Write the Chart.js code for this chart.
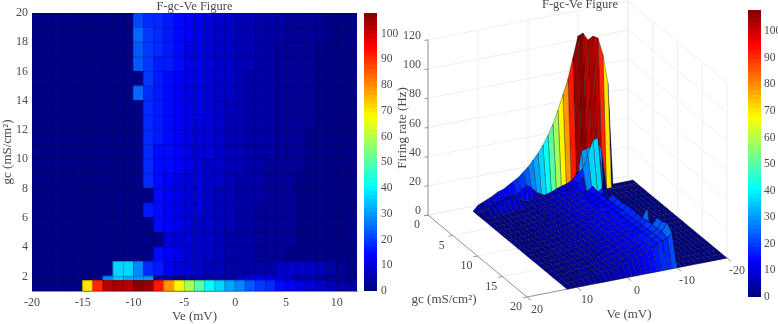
<!DOCTYPE html>
<html>
<head>
<meta charset="utf-8">
<script src="https://cdn.jsdelivr.net/npm/chart.js@4"></script>
<style>
html,body{margin:0;padding:0;background:#fff;width:778px;height:324px;overflow:hidden}
canvas{position:absolute}
</style>
</head>
<body>
<canvas id="surface" width="778" height="324" style="left:0;top:0"></canvas>
<canvas id="heat" width="362" height="324" style="left:0;top:0"></canvas>
<canvas id="barA" width="44" height="324" style="left:364px;top:0"></canvas>
<canvas id="barB" width="34" height="324" style="left:748px;top:0"></canvas>
<script>
const veNodes = [-20,-19,-18,-17,-16,-15,-14,-13,-12,-11,-10,-9,-8,-7,-6,-5,-4,-3,-2,-1,0,1,2,3,4,5,6,7,8,9,10,11,12];
const gcNodes = [1,1.7,2,3,4,5,6,7,8,9,10,11,12,13,14,15,16,17,18,19,20];
// Firing rate (Hz), one list per gc value
const rGc1   = [0,0,0,0,0,70,90,102,104,102,107.5,106,92,78,68,58,49,42,36,31,27,23,20,17,15,13,11,10,8,6.5,5,3.5,0];
const rGc1p7 = [0,0,0,0,0,0,0,28,34,31,30,29,4,3.5,3.5,4,3.5,3,3.5,5,7,11,13,11,9,7,5,4,3,2.5,2,1.5,0];
const rGc2   = [0,0,0,0,0,0,0,0,37,36,27,18,16,12,10,9,8,6.5,5.5,4.5,4,3.5,3.5,4,7,8,8,7.5,6,4.5,2.5,1.5,0];
const rGc3   = [0,0,0,0,0,0,0,0,0,0,0,0,15,12,10.5,9,8,7,6,5,4.2,3.6,3,2.5,2,1.6,1.3,1,.8,.6,.4,.3,0];
const rGc4   = [0,0,0,0,0,0,0,0,0,0,0,0,1,9,9.5,8.6,7.8,6.8,5.9,5,4.2,3.6,3,2.5,2.1,1.7,1.3,1,.8,.6,.4,.3,0];
const rGc5   = [0,0,0,0,0,0,0,0,0,0,0,0,15,12.5,10.8,9.4,8.3,7.3,6.3,5.3,4.4,3.8,3.2,2.6,2.2,1.8,1.4,1.1,.9,.7,.5,.3,0];
const rGc6   = [0,0,0,0,0,0,0,0,0,0,0,16,14,12.8,11,9.6,8.5,7.5,6.5,5.5,4.5,3.9,3.3,2.7,2.3,1.9,1.5,1.2,1,.8,.5,.3,0];
const rGc7   = [0,0,0,0,0,0,0,0,0,0,0,0,15,13.2,11.2,9.8,8.6,7.6,6.6,5.6,4.6,4,3.4,2.8,2.3,1.9,1.5,1.2,1,.8,.5,.3,0];
const rGc8   = [0,0,0,0,0,0,0,0,0,0,0,17,14.5,13.4,11.5,10,8.8,7.8,6.8,5.8,4.8,4.1,3.5,2.9,2.4,2,1.6,1.3,1,.8,.5,.3,0];
const rGc9   = [0,0,0,0,0,0,0,0,0,0,0,17,15,13.8,12.2,10.6,9.5,8.4,7.3,6.2,5.1,4.4,3.8,3.2,2.7,2.3,1.9,1.5,1.2,.9,.6,.4,0];
const rGc10  = [0,0,0,0,0,0,0,0,0,0,0,17,15,14,12.5,11,9.8,8.6,7.5,6.4,5.3,4.6,4,3.4,2.9,2.4,2,1.6,1.3,1,.7,.4,0];
const rGc11  = [0,0,0,0,0,0,0,0,0,0,0,18,15.5,14.2,12.6,11.2,9.9,8.7,7.6,6.5,5.4,4.7,4,3.4,2.9,2.4,2,1.6,1.3,1,.7,.4,0];
const rGc12  = [0,0,0,0,0,0,0,0,0,0,0,18,15.5,14.4,12.8,11.3,10,8.8,7.7,6.6,5.5,4.8,4.1,3.5,3,2.5,2.1,1.7,1.4,1,.7,.4,0];
const rGc13  = [0,0,0,0,0,0,0,0,0,0,0,18,16,14.6,13,11.4,10.2,9,7.8,6.7,5.6,4.9,4.2,3.6,3,2.5,2.1,1.7,1.4,1.1,.7,.5,0];
const rGc14  = [0,0,0,0,0,0,0,0,0,0,24,18,16,15,13.2,11.5,10.4,9,8,6.8,5.7,5,4.3,3.8,3.2,2.6,2.2,1.9,1.5,1.2,.8,.5,0];
const rGc15  = [0,0,0,0,0,0,0,0,0,0,0,19,16.5,15,13.4,11.6,10.5,9.1,8,6.9,5.8,5,4.4,3.8,3.2,2.7,2.2,1.9,1.5,1.2,.8,.5,0];
const rGc16  = [0,0,0,0,0,0,0,0,0,0,23,19,16.5,15.2,13.5,11.7,10.6,9.2,8.1,7,5.8,5.1,4.4,3.9,3.3,2.7,2.3,1.9,1.6,1.2,.8,.5,0];
const rGc17  = [0,0,0,0,0,0,0,0,0,0,23,19,17,15.5,13.7,11.8,10.7,9.3,8.2,7.1,5.9,5.1,4.5,3.9,3.3,2.8,2.3,2,1.6,1.2,.9,.6,0];
const rGc18  = [0,0,0,0,0,0,0,0,0,0,25,20,17,15.6,13.9,12,10.9,9.4,8.2,7.1,6,5.2,4.6,4,3.4,2.8,2.4,2,1.7,1.3,.9,.6,0];
const rGc19  = [0,0,0,0,0,0,0,0,0,0,21,18,17,16,14,12,11,9.5,8.3,7.2,6,5.2,4.6,4,3.4,2.8,2.4,2,1.7,1.3,.9,.6,0];
const rGc20  = [0,0,0,0,0,0,0,0,0,0,0,0,0,0,0,0,0,0,0,0,0,0,0,0,0,0,0,0,0,0,0,0,0];
const firingRate = [rGc1,rGc1p7,rGc2,rGc3,rGc4,rGc5,rGc6,rGc7,rGc8,rGc9,rGc10,rGc11,rGc12,rGc13,rGc14,rGc15,rGc16,rGc17,rGc18,rGc19,rGc20];

const colorMax = 108;
const titleText = 'F-gc-Ve Figure';
const zTicks = [0,20,40,60,80,100,120];
const gcTicks = [0,5,10,15,20];
const veTicks = [20,10,0,-10,-20];

const SERIF = '"Liberation Serif","Times New Roman",serif';
const TEXT = '#4b4b4b';
Chart.defaults.animation = false;
Chart.defaults.font.family = SERIF;
Chart.defaults.color = TEXT;

function jet(t){
  const c = u => Math.round(255*Math.max(0,Math.min(1,u)));
  return `rgb(${c(1.5-Math.abs(4*t-3))},${c(1.5-Math.abs(4*t-2))},${c(1.5-Math.abs(4*t-1))})`;
}
const colorOf = v => jet((Math.min(63,Math.floor(v/colorMax*64))+0.5)/64);

/* ---------- 2D heat map: floating bars on linear axes, cell edges as lines ---------- */
const EDGE = 'rgba(0,0,0,0.3)';
const heatSets = gcNodes.slice(0,-1).map((g,j)=>({
  type:'bar',
  data: veNodes.slice(0,-1).map((v)=>({x:v+0.5,y:[g,gcNodes[j+1]]})),
  backgroundColor: veNodes.slice(0,-1).map((v,i)=>colorOf(firingRate[j][i])),
  borderWidth:0, inflateAmount:0.6, order:5,
  barPercentage:1, categoryPercentage:1, grouped:false
}));
const edgeSets = [
  ...veNodes.map(v=>({type:'line',order:1,data:[{x:v,y:1},{x:v,y:20}],borderColor:EDGE,borderWidth:0.7,pointRadius:0,fill:false})),
  ...gcNodes.map(g=>({type:'line',order:1,data:[{x:-20,y:g},{x:12,y:g}],borderColor:EDGE,borderWidth:0.7,pointRadius:0,fill:false}))
];
new Chart(document.getElementById('heat'),{
  data:{datasets:[...edgeSets,...heatSets]},
  options:{
    responsive:false, maintainAspectRatio:false,
    layout:{padding:{left:0,right:5,top:0,bottom:0}},
    plugins:{legend:{display:false},tooltip:{enabled:false},
      title:{display:true,text:titleText,fullSize:false,color:TEXT,padding:0,font:{size:12.5,weight:'normal',lineHeight:13/12.5}}},
    scales:{
      x:{type:'linear',offset:false,min:-20,max:12,
        grid:{display:false,drawTicks:false},border:{color:'#8a8a8a'},
        ticks:{stepSize:5,includeBounds:false,maxRotation:0,autoSkip:false,padding:5,font:{size:12},color:TEXT},
        title:{display:true,text:'Ve (mV)',color:TEXT,font:{size:13},padding:{top:0,bottom:0}},
        afterFit:s=>{s.height=33;}},
      y:{type:'linear',min:1,max:20,
        grid:{display:false,drawTicks:false},border:{color:'#8a8a8a'},
        ticks:{stepSize:2,includeBounds:false,autoSkip:false,padding:4,font:{size:12},color:TEXT},
        title:{display:true,text:'gc (mS/cm²)',color:TEXT,font:{size:13},padding:{top:0,bottom:0}},
        afterFit:s=>{s.width=32;}}
    }
  }
});

/* ---------- colour bars ---------- */
const levelEdges = Array.from({length:65},(_,i)=>i/64*colorMax);
function colorbar(id,top,bottom,axisW,pad){
  new Chart(document.getElementById(id),{
    type:'bar',
    data:{labels:[''],datasets:levelEdges.slice(0,-1).map((e,i)=>({
      data:[[e,levelEdges[i+1]]],backgroundColor:colorOf(e+0.01),inflateAmount:0.6,
      barPercentage:1,categoryPercentage:1,grouped:false}))},
    options:{responsive:false,maintainAspectRatio:false,
      layout:{padding:{top:top,bottom:bottom,left:0,right:0}},
      plugins:{legend:{display:false},tooltip:{enabled:false}},
      scales:{
        x:{display:false},
        y:{position:'right',min:0,max:colorMax,
          grid:{display:false,drawTicks:false},border:{display:false},
          ticks:{stepSize:10,includeBounds:false,autoSkip:false,padding:pad,font:{size:11.5},color:TEXT},
          afterFit:s=>{s.width=axisW;}}
      }}
  });
}
colorbar('barA',13,33,31,4);
colorbar('barB',1,27,21,3);

/* ---------- 3D surface: projected facets on hidden linear axes ---------- */
const project = (ve,gc,z)=>({x:428+(20-ve)*5+gc*4.95, y:215-(20-ve)*0.975+gc*4.1-z*1.46});
const paint = [];
const segment = (a,b,color,w)=>paint.push({data:[a,b],borderColor:color,borderWidth:w,fill:false,pointRadius:0,tension:0});
const GRID='#eeeeee', AXIS='#969696';
zTicks.forEach(z=>{
  segment(project(20,0,z),project(-20,0,z),GRID,1);
  segment(project(-20,0,z),project(-20,20,z),GRID,1);
});
veTicks.forEach(v=>{
  segment(project(v,0,0),project(v,0,120),GRID,1);
  segment(project(v,0,0),project(v,20,0),GRID,1);
});
gcTicks.forEach(g=>{
  segment(project(-20,g,0),project(-20,g,120),GRID,1);
  segment(project(20,g,0),project(-20,g,0),GRID,1);
});
segment(project(20,0,0),project(20,0,120),AXIS,1);
segment(project(20,0,0),project(20,20,0),AXIS,1);
segment(project(20,20,0),project(-20,20,0),AXIS,1);
zTicks.forEach(z=>segment(project(20,0,z),project(20.7,0,z),AXIS,1));
gcTicks.forEach(g=>segment(project(20,g,0),project(20.8,g,0),AXIS,1));
veTicks.forEach(v=>segment(project(v,20,0),project(v,20.8,0),AXIS,1));
gcNodes.slice(0,-1).forEach((g,j)=>{
  veNodes.slice(0,-1).forEach((v,i)=>{
    const g2=gcNodes[j+1], v2=veNodes[i+1], R=firingRate;
    const a=project(v,g,R[j][i]), b=project(v2,g,R[j][i+1]), c=project(v2,g2,R[j+1][i+1]), d=project(v,g2,R[j+1][i]);
    paint.push({data:[a,b,c,d,a],backgroundColor:colorOf(R[j][i]),fill:'shape',
      borderColor:'rgba(0,0,0,0.5)',borderWidth:0.6,pointRadius:0,tension:0});
  });
});
const labelList = [
  ...zTicks.map(z=>{const p=project(20,0,z);return {t:String(z),x:p.x-7,y:p.y-4,a:'right',s:12};}),
  ...gcTicks.map(g=>{const p=project(20,g,0);return {t:String(g),x:p.x-11,y:p.y+10,a:'center',s:12};}),
  ...veTicks.map(v=>{const p=project(v,20,0);return {t:String(v),x:p.x+10,y:p.y+13,a:'center',s:12};}),
  {t:'gc (mS/cm²)',x:444,y:300,a:'center',s:13},
  {t:'Ve (mV)',x:629,y:315,a:'center',s:13},
  {t:titleText,x:580,y:5,a:'center',s:12.5},
  {t:'Firing rate (Hz)',x:403,y:128,a:'center',s:13,r:-Math.PI/2}
];
new Chart(document.getElementById('surface'),{
  type:'line',
  data:{datasets:paint.slice().reverse()},
  options:{responsive:false,maintainAspectRatio:false,
    layout:{padding:0},
    plugins:{legend:{display:false},tooltip:{enabled:false},filler:{propagate:false}},
    scales:{
      x:{type:'linear',display:false,min:0,max:778},
      y:{type:'linear',display:false,min:0,max:324,reverse:true}
    }},
  plugins:[{id:'labels3d',afterDraw(chart){
    const ctx=chart.ctx, X=chart.scales.x, Y=chart.scales.y;
    ctx.save();ctx.fillStyle=TEXT;ctx.textBaseline='middle';
    labelList.forEach(l=>{
      ctx.save();
      ctx.font=`${l.s}px ${SERIF}`;ctx.textAlign=l.a;
      ctx.translate(X.getPixelForValue(l.x),Y.getPixelForValue(l.y));
      if(l.r)ctx.rotate(l.r);
      ctx.fillText(l.t,0,0);
      ctx.restore();
    });
    ctx.restore();
  }}]
});
</script>
</body>
</html>
